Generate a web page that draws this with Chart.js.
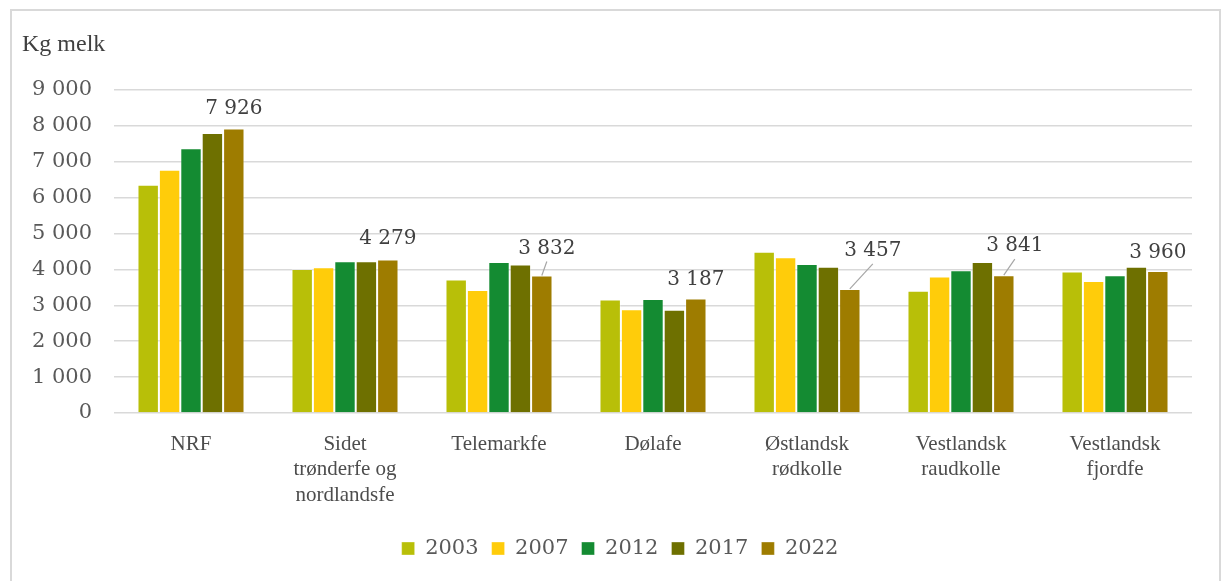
<!DOCTYPE html>
<html>
<head>
<meta charset="utf-8">
<script src="https://cdn.jsdelivr.net/npm/chart.js@4/dist/chart.umd.min.js"></script>
<style>
  html, body { margin: 0; padding: 0; background: #fff; }
  #wrap { width: 1221px; height: 581px; position: relative; }
</style>
</head>
<body>
<div id="wrap"><canvas id="c" width="1221" height="581"></canvas></div>
<script>
const categories = [
  'NRF',
  ['Sidet', 'trønderfe og', 'nordlandsfe'],
  'Telemarkfe',
  'Dølafe',
  ['Østlandsk', 'rødkolle'],
  ['Vestlandsk', 'raudkolle'],
  ['Vestlandsk', 'fjordfe']
];
const years = ['2003', '2007', '2012', '2017', '2022'];
const v2003 = [6360, 4010, 3720, 3160, 4490, 3405, 3940];
const v2007 = [6780, 4060, 3430, 2890, 4340, 3800, 3680];
const v2012 = [7380, 4225, 4210, 3175, 4150, 3975, 3835];
const v2017 = [7805, 4225, 4140, 2875, 4075, 4210, 4075];
const v2022 = [7926, 4279, 3832, 3187, 3457, 3841, 3960];
const yTicks = [0, 1000, 2000, 3000, 4000, 5000, 6000, 7000, 8000, 9000];

const seriesValues = [v2003, v2007, v2012, v2017, v2022];
const colors = ['#B8BF08', '#FFCC0A', '#148B32', '#6E7000', '#9E7C00'];

const fmt = n => String(n).replace(/\B(?=(\d{3})+(?!\d))/g, ' ');
const NUM_FONT = 'DejaVu Serif';
const TXT_FONT = 'Liberation Serif';

const framePlugin = {
  id: 'frame',
  afterLayout(chart) {
    const lg = chart.legend;
    if (lg) { lg.left += 24; lg.right += 24; }
  },
  beforeDraw(chart) {
    const ctx = chart.ctx;
    ctx.save();
    ctx.fillStyle = '#fff';
    ctx.fillRect(0, 0, chart.width, chart.height);
    ctx.strokeStyle = '#d9d9d9';
    ctx.lineWidth = 2;
    ctx.strokeRect(11, 10, 1209, 620);
    ctx.fillStyle = '#404040';
    ctx.font = '24px "' + TXT_FONT + '"';
    ctx.textBaseline = 'middle';
    ctx.textAlign = 'left';
    ctx.fillText('Kg melk', 22, 45);
    ctx.restore();
  }
};

const labelPlugin = {
  id: 'lastLabels',
  afterDatasetsDraw(chart, args, opts) {
    const ctx = chart.ctx;
    const di = chart.data.datasets.length - 1;
    const meta = chart.getDatasetMeta(di);
    const data = chart.data.datasets[di].data;
    ctx.save();
    ctx.font = '20px "' + NUM_FONT + '"';
    ctx.textAlign = 'center';
    ctx.textBaseline = 'middle';
    meta.data.forEach((bar, i) => {
      const o = opts.offsets[i];
      const lx = bar.x + o.dx, ly = bar.y + o.dy;
      if (o.leader) {
        ctx.strokeStyle = '#a6a6a6';
        ctx.lineWidth = 1.2;
        ctx.beginPath();
        ctx.moveTo(bar.x, bar.y);
        ctx.lineTo(lx, ly + 13);
        ctx.stroke();
      }
      ctx.fillStyle = '#404040';
      ctx.fillText(fmt(data[i]), lx, ly);
    });
    ctx.restore();
  }
};

new Chart(document.getElementById('c'), {
  type: 'bar',
  data: {
    labels: categories,
    datasets: years.map((y, i) => ({
      label: y,
      data: seriesValues[i],
      backgroundColor: colors[i],
      borderColor: 'rgba(255,255,255,0.35)',
      borderWidth: 1,
      categoryPercentage: 0.695,
      barPercentage: 1.0
    }))
  },
  options: {
    responsive: false,
    animation: false,
    devicePixelRatio: 1,
    layout: { padding: { left: 0, right: 29, top: 90, bottom: 12 } },
    plugins: {
      legend: {
        position: 'bottom',
        labels: {
          boxWidth: 13, boxHeight: 13, padding: 13,
          color: '#595959',
          font: { family: NUM_FONT, size: 21 }
        }
      },
      tooltip: { enabled: false },
      lastLabels: {
        offsets: [
          { dx: 0, dy: -20 },
          { dx: 0, dy: -21 },
          { dx: 5, dy: -27, leader: true },
          { dx: 0, dy: -19 },
          { dx: 23, dy: -38, leader: true },
          { dx: 11, dy: -29, leader: true },
          { dx: 0, dy: -18 }
        ]
      }
    },
    scales: {
      x: {
        grid: { display: false },
        border: { display: false },
        ticks: {
          color: '#4d4d4d',
          padding: 11,
          maxRotation: 0,
          autoSkip: false,
          font: { family: TXT_FONT, size: 21, lineHeight: 1.2 }
        },
        afterFit(scale) { scale.height = 112; }
      },
      y: {
        min: 0, max: 9000,
        afterBuildTicks(scale) { scale.ticks = yTicks.map(v => ({ value: v })); },
        grid: { color: '#d9d9d9', lineWidth: 1.5, drawTicks: false },
        border: { display: false },
        ticks: {
          color: '#595959',
          padding: 22,
          font: { family: NUM_FONT, size: 21 },
          callback: v => fmt(v)
        },
        afterFit(scale) { scale.width = 114; }
      }
    }
  },
  plugins: [framePlugin, labelPlugin]
});
</script>
</body>
</html>
